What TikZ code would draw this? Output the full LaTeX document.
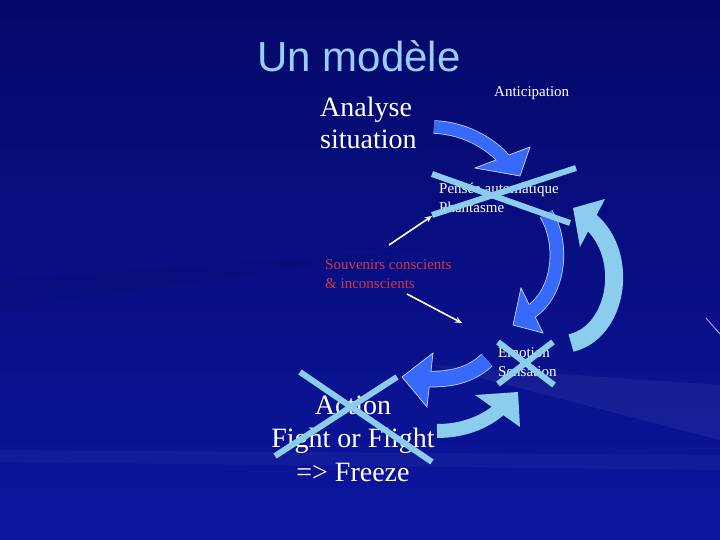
\documentclass[tikz,border=0pt]{standalone}
\usepackage{fontspec}
\setmainfont{Liberation Serif}
\setsansfont{Liberation Sans}
\usetikzlibrary{arrows.meta,positioning}

\definecolor{bgtop}{RGB}{4,8,105}
\definecolor{bgbottom}{RGB}{12,22,158}
\definecolor{titleblue}{RGB}{153,204,255}
\definecolor{arrowblue}{RGB}{55,105,250}
\definecolor{arrowedge}{RGB}{200,215,255}
\definecolor{skyblue}{RGB}{140,205,238}
\definecolor{souvred}{RGB}{205,55,75}
\definecolor{lavender}{RGB}{190,150,255}

\begin{document}
\begin{tikzpicture}[x=1pt, y=-1pt,
    txt/.style={inner sep=0pt, text=white, align=left},
    cross/.style={skyblue, line width=6pt},
    thinarrow/.style={white, line width=1.6pt, -{Stealth[length=7pt,width=6pt]}},
    headedge/.style={fill=arrowblue, draw=arrowedge, line width=0.7pt, line join=miter}]

  % Background
  \shade[top color=bgtop, bottom color=bgbottom] (0,0) rectangle (720,540);
  \fill[white, opacity=0.05] (430,365) -- (720,385) -- (720,440) -- cycle;
  \fill[white, opacity=0.03] (0,450) -- (720,455) -- (720,470) -- (0,462) -- cycle;
  \fill[black, opacity=0.06] (0,280) -- (420,250) -- (0,310) -- cycle;
  \useasboundingbox (0,0) rectangle (720,540);
  \draw[lavender, line width=0.9pt] (706,318) -- (720,334);

  % Texts
  \node[inner sep=0pt, anchor=base, text=titleblue, font=\sffamily\fontsize{42}{46}\selectfont] (title) at (359,72) {Un modèle};
  \node[txt, anchor=base west, font=\fontsize{28}{32}\selectfont] (analyse) at (320,149) {Analyse\\situation};
  \node[txt, anchor=base west, font=\fontsize{15}{19}\selectfont] (anticip) at (494,97) {Anticipation};
  \node[txt, anchor=base west, font=\fontsize{15}{19}\selectfont] (pensee) at (439,212) {Pensée automatique\\Phantasme};
  \node[txt, anchor=base west, text=souvred, font=\fontsize{15}{18.5}\selectfont] (souvenirs) at (325,288) {Souvenirs conscients\\\& inconscients};
  \node[txt, anchor=base west, font=\fontsize{15}{19}\selectfont] (emotion) at (498,376) {Emotion\\Sensation};
  \node[txt, align=center, anchor=base, font=\fontsize{28}{33.5}\selectfont] (action) at (353,481) {Action\\Fight or Flight\\=> Freeze};

  % Cycle arrows
  \draw[arrowedge, line width=13.5pt] (434,127) .. controls (462,128) and (488,141) .. (505,160);
  \draw[headedge] (475,168) -- (530,147) -- (520,176) -- cycle;
  \draw[arrowblue, line width=12pt] (434,127) .. controls (462,128) and (488,141) .. (505,160);

  \draw[arrowedge, line width=14.5pt] (546,214) .. controls (563,240) and (562,292) .. (529,313);
  \draw[headedge] (521,288) -- (543,333) -- (513,325) -- cycle;
  \draw[arrowblue, line width=13pt] (546,214) .. controls (563,240) and (562,292) .. (529,313);

  \draw[skyblue, line width=18pt] (571,343) .. controls (618,332) and (630,255) .. (590,221);
  \fill[skyblue] (605,199) -- (573,208) -- (580,247) -- cycle;

  \draw[arrowedge, line width=16.5pt] (487,360) .. controls (473,373) and (455,380) .. (427,379);
  \draw[headedge] (433,353) -- (402,377) -- (427,407) -- cycle;
  \draw[arrowblue, line width=15pt] (487,360) .. controls (473,373) and (455,380) .. (427,379);

  \draw[skyblue, line width=14pt] (437,431) .. controls (462,431) and (484,423) .. (500,409);
  \fill[skyblue] (475,395) -- (518,392) -- (520,427) -- cycle;

  % Memory arrows
  \coordinate (memtop) at (389,245);
  \coordinate (pensin) at (432,216);
  \coordinate (membot) at (407,294);
  \coordinate (emoin) at (462,323);
  \draw[thinarrow] (memtop) -- (pensin);
  \draw[thinarrow] (membot) -- (emoin);

  % Crosses
  \draw[cross] (432,174) -- (570,223);
  \draw[cross] (432,215) -- (576,168);
  \draw[cross] (498,342) -- (554,385);
  \draw[cross] (498,384) -- (553,342);
  \draw[cross] (300,372) -- (432,462);
  \draw[cross] (275,456) -- (397,377);
\end{tikzpicture}
\end{document}
